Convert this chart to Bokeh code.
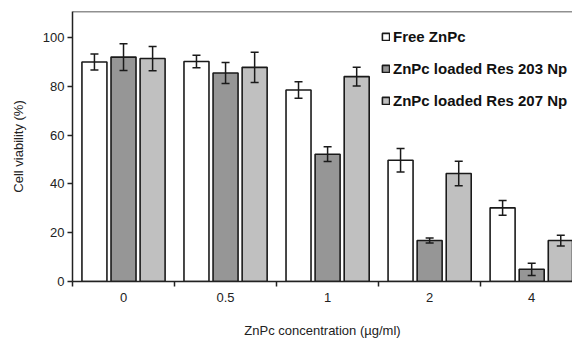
from bokeh.plotting import figure
from bokeh.models import (ColumnDataSource, Whisker, TeeHead, FixedTicker, Legend,
                          LegendItem, Span)
from bokeh.embed import file_html
from bokeh.resources import INLINE
import numpy as np

# ---- data ----
categories = ["0", "0.5", "1", "2", "4"]
series_names = ["Free ZnPc", "ZnPc loaded Res 203 Np", "ZnPc loaded Res 207 Np"]
free_znpc = [90.0, 90.2, 78.5, 49.7, 30.2]
free_znpc_err = [3.3, 2.6, 3.4, 4.8, 3.0]
res203 = [92.0, 85.5, 52.2, 16.8, 5.0]
res203_err = [5.5, 4.3, 3.0, 1.0, 2.5]
res207 = [91.4, 87.8, 84.0, 44.3, 16.8]
res207_err = [5.0, 6.2, 3.8, 5.0, 2.2]
y_ticks = [0, 20, 40, 60, 80, 100]

fills = ["#ffffff", "#969696", "#c0c0c0"]
values = [free_znpc, res203, res207]
errors = [free_znpc_err, res203_err, res207_err]
offsets = [-0.285, 0.0, 0.285]
bar_w = 0.245

Y_END = 110.7
p = figure(width=572, height=340, output_backend="svg", toolbar_location=None,
           x_range=(0, 4.9), y_range=(0, Y_END),
           min_border_left=72, min_border_right=0, min_border_top=11,
           min_border_bottom=59)
p.xgrid.visible = False
p.ygrid.visible = False
p.outline_line_color = None
p.background_fill_color = "white"
p.border_fill_color = "white"

centers = np.arange(len(categories)) + 0.5
renderers = []
for vals, errs, off, col in zip(values, errors, offsets, fills):
    src = ColumnDataSource(dict(x=centers + off, top=vals,
                                upper=np.array(vals) + np.array(errs),
                                lower=np.array(vals) - np.array(errs)))
    r = p.vbar(x="x", top="top", width=bar_w, source=src, fill_color=col,
               line_color="#1a1a1a", line_width=1.6)
    renderers.append(r)
    w = Whisker(source=src, base="x", upper="upper", lower="lower",
                line_color="#1a1a1a", line_width=1.5, level="overlay",
                upper_head=TeeHead(size=8, line_color="#1a1a1a", line_width=1.5),
                lower_head=TeeHead(size=8, line_color="#1a1a1a", line_width=1.5))
    p.add_layout(w)

top = Span(location=Y_END, dimension="width", line_color="#222222", line_width=1.5)
p.add_layout(top)

# x axis
xa = p.xaxis[0]
xa.ticker = FixedTicker(ticks=list(centers), minor_ticks=list(range(len(categories) + 1)))
xa.major_label_overrides = {float(c): lab for c, lab in zip(centers, categories)}
xa.major_tick_out = 0
xa.major_tick_in = 0
xa.minor_tick_out = 5
xa.minor_tick_in = 0
xa.minor_tick_line_color = "#222222"
xa.minor_tick_line_width = 1.5
xa.major_label_standoff = 6
xa.axis_label = "ZnPc concentration (µg/ml)"
xa.axis_label_standoff = 18
for ax in (p.xaxis[0], p.yaxis[0]):
    ax.axis_line_color = "#222222"
    ax.axis_line_width = 1.5
    ax.major_tick_line_color = "#222222"
    ax.major_tick_line_width = 1.5
    ax.major_label_text_font = "Liberation Sans"
    ax.major_label_text_font_size = "13px"
    ax.major_label_text_color = "#222222"
    ax.axis_label_text_font = "Liberation Sans"
    ax.axis_label_text_font_size = "13px"
    ax.axis_label_text_font_style = "normal"
    ax.axis_label_text_color = "#222222"

ya = p.yaxis[0]
ya.ticker = FixedTicker(ticks=y_ticks)
ya.major_tick_out = 5
ya.major_tick_in = 0
ya.minor_tick_line_color = None
ya.major_label_standoff = 3
ya.axis_label = "Cell viability (%)"
ya.axis_label_standoff = 14

legend = Legend(items=[LegendItem(label=n, renderers=[r]) for n, r in zip(series_names, renderers)],
                location=(309, 170), orientation="vertical")
legend.label_text_font = "Liberation Sans"
legend.label_text_font_style = "bold"
legend.label_text_font_size = "15px"
legend.label_text_color = "#111111"
legend.glyph_width = 9
legend.glyph_height = 9
legend.label_height = 21
legend.label_standoff = 3
legend.spacing = 11
legend.padding = 0
legend.margin = 0
legend.border_line_color = None
legend.background_fill_alpha = 0
p.add_layout(legend)

open("out.html", "w").write(file_html(p, INLINE))
